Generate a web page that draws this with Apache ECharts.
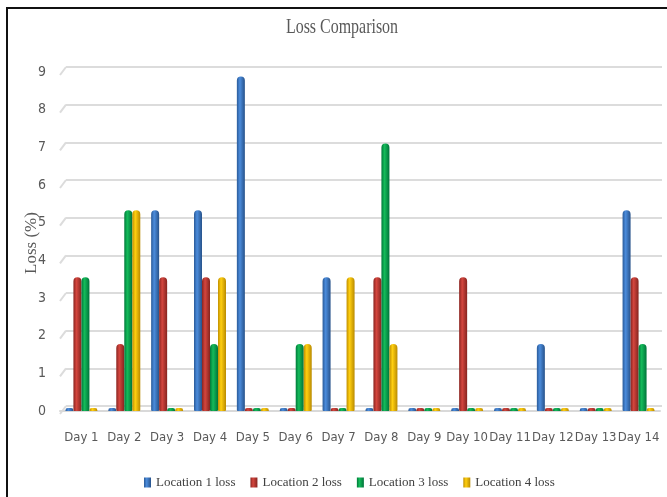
<!DOCTYPE html>
<html>
<head>
<meta charset="utf-8">
<script src="https://cdn.jsdelivr.net/npm/echarts@6/dist/echarts.min.js"></script>
<style>
  html, body { margin: 0; padding: 0; background: #fff; }
  #chart { width: 667px; height: 497px; }
</style>
</head>
<body>
<div id="chart"></div>
<script>
// Daily loss per location, in percent
const days = ['Day 1', 'Day 2', 'Day 3', 'Day 4', 'Day 5', 'Day 6', 'Day 7',
              'Day 8', 'Day 9', 'Day 10', 'Day 11', 'Day 12', 'Day 13', 'Day 14'];
const location1Loss = [0, 0, 5.33, 5.33, 8.88, 0, 3.55, 0, 0, 0, 0, 1.78, 0, 5.33];
const location2Loss = [3.55, 1.78, 3.55, 3.55, 0, 0, 0, 3.55, 0, 3.55, 0, 0, 0, 3.55];
const location3Loss = [3.55, 5.33, 0, 1.78, 0, 1.78, 0, 7.1, 0, 0, 0, 0, 0, 1.78];
const location4Loss = [0, 5.33, 0, 3.55, 0, 1.78, 3.55, 1.78, 0, 0, 0, 0, 0, 0];
const seriesNames = ['Location 1 loss', 'Location 2 loss', 'Location 3 loss', 'Location 4 loss'];
const yTicks = [0, 1, 2, 3, 4, 5, 6, 7, 8, 9];

// Cylinder shading: dark edges with a highlight left of centre
function cylinder(edgeL, light, edgeR) {
  return {
    type: 'linear', x: 0, y: 0, x2: 1, y2: 0,
    colorStops: [
      { offset: 0, color: edgeL },
      { offset: 0.38, color: light },
      { offset: 1, color: edgeR }
    ]
  };
}
const fills = [
  cylinder('#2a5a98', '#4b8cdc', '#27528a'),
  cylinder('#8a2420', '#d4463e', '#85241f'),
  cylinder('#00793a', '#14bb5a', '#00733a'),
  cylinder('#c08f00', '#ffcf10', '#b98a00')
];
const values = [location1Loss, location2Loss, location3Loss, location4Loss];

const chart = echarts.init(document.getElementById('chart'), null, { renderer: 'canvas' });

const barSeries = seriesNames.map((name, i) => ({
  name: name,
  type: 'bar',
  xAxisIndex: 0,
  yAxisIndex: 0,
  data: values[i],
  barWidth: 8,
  barGap: '0%',
  barMinHeight: 3,
  itemStyle: { color: fills[i], borderRadius: [4, 4, 1, 1] },
  emphasis: { disabled: true }
}));

const narrowFont = '"Liberation Sans Narrow", "DejaVu Sans Condensed", "Roboto", sans-serif';
const serifFont = '"Liberation Serif", "Times New Roman", serif';

chart.setOption({
  animation: false,
  backgroundColor: '#ffffff',
  legend: {
    data: seriesNames,
    left: 139,
    top: 471,
    itemWidth: 7,
    itemHeight: 10,
    itemGap: 15,
    icon: 'rect',
    textStyle: { fontFamily: serifFont, fontSize: 13, color: '#404040' }
  },
  grid: [
    // front plane: bars and tick labels
    { left: 60, width: 600, top: 72, bottom: 86 },
    // back wall: gridlines
    { left: 66, width: 596, top: 67, bottom: 91 }
  ],
  xAxis: [
    {
      type: 'category', gridIndex: 0, data: days,
      axisLine: { lineStyle: { color: '#d9d9d9', width: 2 } },
      axisTick: { show: false },
      axisLabel: {
        interval: 0,
        margin: 20,
        fontFamily: narrowFont,
        fontSize: 13, color: '#595959'
      }
    },
    {
      type: 'category', gridIndex: 1, data: days,
      axisLine: { show: false }, axisTick: { show: false }, axisLabel: { show: false }
    }
  ],
  yAxis: [
    {
      type: 'value', gridIndex: 0, min: 0, max: 9, interval: 1,
      axisLine: { show: false },
      axisTick: { show: false },
      splitLine: { show: false },
      axisLabel: {
        margin: 14,
        padding: [6, 0, 0, 0],
        fontFamily: narrowFont,
        fontSize: 14, color: '#595959',
        formatter: v => (yTicks.indexOf(v) >= 0 ? String(v) : '')
      }
    },
    {
      type: 'value', gridIndex: 1, min: 0, max: 9, interval: 1,
      axisLine: { show: false }, axisTick: { show: false }, axisLabel: { show: false },
      splitLine: { lineStyle: { color: '#dcdcdc', width: 2 } }
    }
  ],
  series: barSeries
});

// Frame, title, axis name and the short perspective strokes joining
// each back-wall gridline to the front edge
const decorations = [
  {
    type: 'rect', z: 100, silent: true,
    shape: { x: 7, y: 8, width: 720, height: 600 },
    style: { fill: 'none', stroke: '#111', lineWidth: 2 }
  },
  {
    type: 'text', x: 342, y: 27, scaleX: 0.76, silent: true,
    style: {
      text: 'Loss Comparison',
      font: '21px ' + serifFont,
      fill: '#595959', align: 'center', verticalAlign: 'middle'
    }
  },
  {
    type: 'text', x: 32, y: 243, rotation: Math.PI / 2, silent: true,
    style: {
      text: 'Loss (%)',
      font: '17px ' + serifFont,
      fill: '#595959', align: 'center', verticalAlign: 'middle'
    }
  }
];
yTicks.forEach(v => {
  const yb = chart.convertToPixel({ gridIndex: 1 }, [0, v])[1];
  decorations.push({
    type: 'line', silent: true,
    shape: { x1: 60, y1: yb + 8, x2: 66, y2: yb },
    style: { stroke: '#dcdcdc', lineWidth: 2 }
  });
});
chart.setOption({ graphic: decorations });
</script>
</body>
</html>
